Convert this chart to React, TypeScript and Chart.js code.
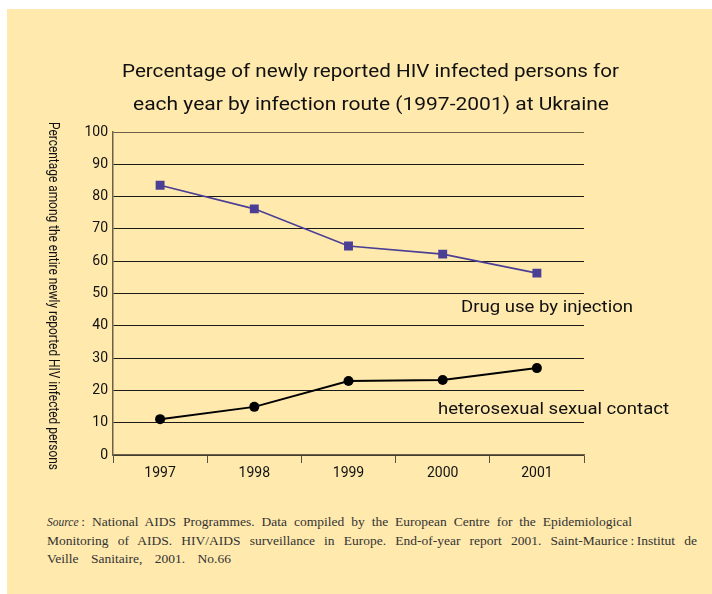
import { useEffect, useRef } from "react";
import { Chart, registerables } from "chart.js";

Chart.register(...registerables);

const years = ["1997", "1998", "1999", "2000", "2001"];
const drugUse = [83.5, 76.2, 64.7, 62.2, 56.3];
const heterosexual = [11.1, 14.9, 22.9, 23.2, 26.9];
const seriesNames = ["Drug use by injection", "heterosexual sexual contact"];
const titleLines = [
  "Percentage of newly reported HIV infected persons for",
  "each year by infection route (1997-2001) at Ukraine",
];
const yAxisLabel = "Percentage among the entire newly reported HIV infected persons";
const sourceLabel = "Source";
const sourceLines = [
  "\u2009: National AIDS Programmes. Data compiled by the European Centre for the Epidemiological",
  "Monitoring of AIDS. HIV/AIDS surveillance in Europe. End-of-year report 2001. Saint-Maurice\u2009:\u2009Institut de",
  "Veille Sanitaire, 2001. No.66",
];

const BG = "#FFE9AD";
const SANS = "Roboto, 'Noto Sans', sans-serif";

function fitText(
  ctx: CanvasRenderingContext2D,
  text: string,
  x: number,
  y: number,
  width: number,
  font: string,
  rotate = 0
) {
  ctx.save();
  ctx.font = font;
  ctx.fillStyle = "#111";
  ctx.textAlign = "left";
  ctx.textBaseline = "alphabetic";
  const w = ctx.measureText(text).width;
  ctx.translate(x, y);
  if (rotate) ctx.rotate(rotate);
  ctx.scale(width / w, 1);
  ctx.fillText(text, 0, 0);
  ctx.restore();
}

const textPlugin = {
  id: "textPlugin",
  afterDraw(chart: any) {
    const ctx = chart.ctx as CanvasRenderingContext2D;
    fitText(ctx, titleLines[0], 115, 68, 497, `18px ${SANS}`);
    fitText(ctx, titleLines[1], 126, 101, 476, `18px ${SANS}`);
    fitText(ctx, yAxisLabel, 42, 113, 348, `14.5px ${SANS}`, Math.PI / 2);
    fitText(ctx, seriesNames[0], 454, 303, 172, `17px ${SANS}`);
    fitText(ctx, seriesNames[1], 431, 405, 231, `17px ${SANS}`);
  },
};

export default function App() {
  const ref = useRef<HTMLCanvasElement>(null);

  useEffect(() => {
    if (!ref.current) return;
    const chart = new Chart(ref.current, {
      type: "line",
      data: {
        labels: years,
        datasets: [
          {
            label: seriesNames[0],
            data: drugUse,
            borderColor: "#4B3F95",
            backgroundColor: "#4B3F95",
            borderWidth: 1.6,
            pointStyle: "rect",
            pointRadius: 6.3,
            pointBorderWidth: 0,
            tension: 0,
          },
          {
            label: seriesNames[1],
            data: heterosexual,
            borderColor: "#000",
            backgroundColor: "#000",
            borderWidth: 2,
            pointStyle: "circle",
            pointRadius: 5,
            pointBorderWidth: 0,
            tension: 0,
          },
        ],
      },
      options: {
        animation: false,
        responsive: false,
        maintainAspectRatio: false,
        layout: { padding: { left: 0, top: 123, right: 128, bottom: 0 } },
        plugins: {
          legend: { display: false },
          title: { display: false },
          tooltip: { enabled: false },
        },
        scales: {
          x: {
            type: "category",
            offset: true,
            afterFit: (s: any) => {
              s.height = 54;
            },
            grid: {
              offset: true,
              drawOnChartArea: false,
              drawTicks: true,
              tickLength: 8,
              color: "#5a5240",
              lineWidth: 1,
            },
            border: { display: true, color: "#6b6048", width: 1.5 },
            ticks: { color: "#111", font: { family: SANS, size: 14 }, padding: 2 },
          },
          y: {
            min: 0,
            max: 100,
            afterFit: (s: any) => {
              s.width = 106;
            },
            ticks: {
              stepSize: 10,
              color: "#111",
              font: { family: SANS, size: 14 },
              padding: 5,
            },
            grid: {
              drawTicks: false,
              color: (c: any) => (c.tick && c.tick.value === 100 ? "#6b6048" : "#1a1a1a"),
              lineWidth: 1,
            },
            border: { display: true, color: "#6b6048", width: 1.5 },
          },
        },
      },
      plugins: [textPlugin],
    });
    return () => chart.destroy();
  }, []);

  const lineStyle = (w: number | null): React.CSSProperties =>
    ({
      display: "block",
      whiteSpace: "nowrap",
      width: w ? `${w}px` : "auto",
      textAlign: "justify",
      textAlignLast: w ? "justify" : "left",
    } as any);

  return (
    <div
      style={{
        position: "absolute",
        left: 7,
        top: 9,
        width: 705,
        height: 585,
        background: BG,
        overflow: "hidden",
      }}
    >
      <canvas
        ref={ref}
        width={705}
        height={500}
        style={{ position: "absolute", left: 0, top: 0, width: 705, height: 500 }}
      />
      <div
        style={{
          position: "absolute",
          left: 40,
          top: 504,
          fontFamily: "'Liberation Serif', 'DejaVu Serif', serif",
          fontSize: 13.5,
          lineHeight: "18.5px",
          color: "#333",
        }}
      >
        <div style={lineStyle(585)}>
          <i style={{ fontSize: 11.5 }}>{sourceLabel}</i>
          {sourceLines[0]}
        </div>
        <div style={lineStyle(650)}>{sourceLines[1]}</div>
        <div style={lineStyle(184)}>{sourceLines[2]}</div>
      </div>
    </div>
  );
}
